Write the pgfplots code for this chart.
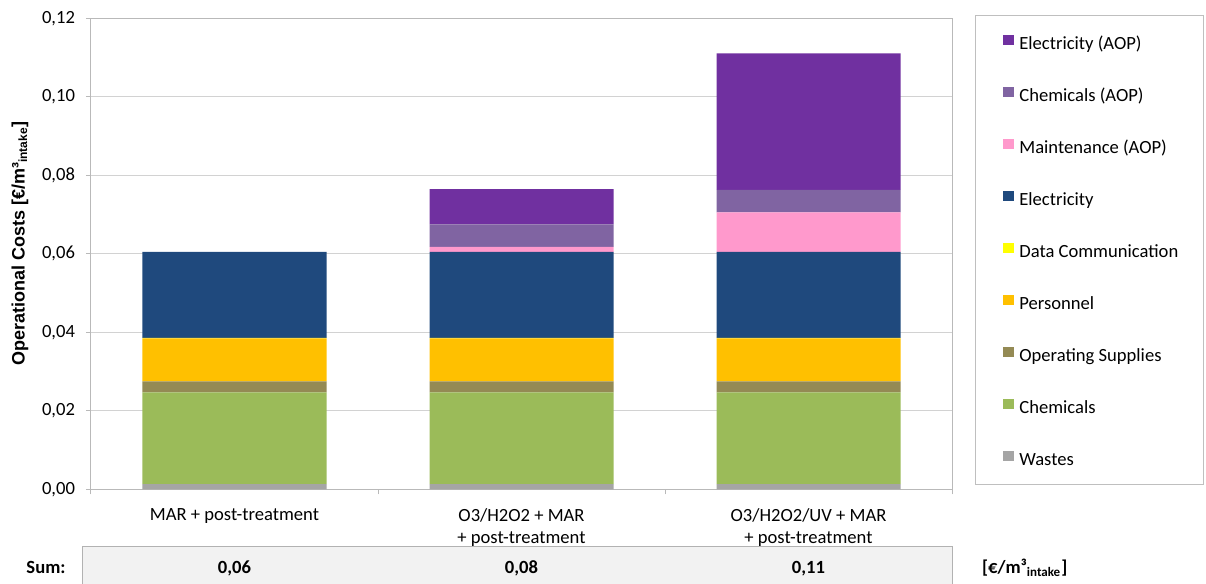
\documentclass[border=0pt]{standalone}
\usepackage{fontspec}
\setmainfont{Carlito}
\newfontfamily\arialfont{Liberation Sans}
\usepackage{pgfplots}
\pgfplotsset{compat=1.18}
\definecolor{cWaste}{HTML}{A5A5A5}
\definecolor{cChem}{HTML}{9BBB59}
\definecolor{cSupp}{HTML}{948A54}
\definecolor{cPers}{HTML}{FFC000}
\definecolor{cData}{HTML}{FFFF00}
\definecolor{cElec}{HTML}{1F497D}
\definecolor{cMaint}{HTML}{FF99CC}
\definecolor{cChemA}{HTML}{8064A2}
\definecolor{cElecA}{HTML}{7030A0}
\definecolor{cTable}{HTML}{F2F2F2}
\newcommand{\cf}{\fontsize{9.3}{11.3}\selectfont}
\begin{document}
\begin{tikzpicture}
\useasboundingbox (-45.5pt,-47.35pt) rectangle (557.5pt,244.65pt);
\begin{axis}[
  name=ax, at={(0,0)}, anchor=south west,
  scale only axis, width=430.5pt, height=235.4pt,
  ybar stacked, bar width=92pt,
  xmin=-0.5, xmax=2.5, ymin=0, ymax=0.12,
  enlarge x limits=false,
  xtick={0,1,2},
  xticklabels={MAR + post-treatment, {O3/H2O2 + MAR\\+ post-treatment}, {O3/H2O2/UV + MAR\\+ post-treatment}},
  minor xtick={-0.5,0.5,1.5,2.5},
  ytick={0,0.02,0.04,0.06,0.08,0.1,0.12},
  scaled y ticks=false,
  ymajorgrids, grid style={draw=gray!35, line width=0.5pt},
  axis line style={draw=gray!55, line width=0.5pt},
  tick align=outside, tick pos=left,
  major tick length=2.5pt, minor tick length=2.5pt,
  major x tick style={draw=none},
  minor x tick style={draw=gray!55, line width=0.5pt},
  ytick style={draw=gray!55, line width=0.5pt},
  xticklabel style={font=\cf, align=center, yshift=-3.5pt},
  yticklabel style={font=\cf, xshift=-2pt, /pgf/number format/.cd, use comma, fixed, fixed zerofill, precision=2, assume math mode=true},
  ylabel={Operational Costs [€/m³\textsubscript{intake}]},
  every axis y label/.style={at={(axis description cs:-0.0825,0.522)}, rotate=90, anchor=center, font=\arialfont\bfseries\fontsize{9}{10.8}\selectfont},
  reverse legend,
  legend cell align=left,
  legend style={at={(axis description cs:1.0592,0.9664)}, anchor=north west, draw=none, fill=none, inner sep=0pt, font=\cf, row sep=16.75pt, nodes={inner sep=0pt, text height=6.5pt, text depth=2pt}},
  legend image code/.code={\path[#1, draw=none] (0pt,0pt) rectangle (5.5pt,5pt); \path (8pt,0pt);},
]
\addplot[fill=cWaste, draw=none] coordinates {(0,0.0013) (1,0.0013) (2,0.0013)};
\addlegendentry{Wastes}
\addplot[fill=cChem, draw=none] coordinates {(0,0.0234) (1,0.0234) (2,0.0234)};
\addlegendentry{Chemicals}
\addplot[fill=cSupp, draw=none] coordinates {(0,0.0028) (1,0.0028) (2,0.0028)};
\addlegendentry{Operating Supplies}
\addplot[fill=cPers, draw=none] coordinates {(0,0.0110) (1,0.0110) (2,0.0110)};
\addlegendentry{Personnel}
\addplot[fill=cData, draw=none] coordinates {(0,0.0001) (1,0.0001) (2,0.0001)};
\addlegendentry{Data Communication}
\addplot[fill=cElec, draw=none] coordinates {(0,0.0219) (1,0.0219) (2,0.0219)};
\addlegendentry{Electricity}
\addplot[fill=cMaint, draw=none] coordinates {(0,0) (1,0.0013) (2,0.0101)};
\addlegendentry{Maintenance (AOP)}
\addplot[fill=cChemA, draw=none] coordinates {(0,0) (1,0.0057) (2,0.0057)};
\addlegendentry{Chemicals (AOP)}
\addplot[fill=cElecA, draw=none] coordinates {(0,0) (1,0.0090) (2,0.0348)};
\addlegendentry{Electricity (AOP)}
\end{axis}
% legend frame
\draw[gray!50, line width=0.5pt] (442.35pt,2.15pt) rectangle (556pt,236.8pt);
% sum row
\fill[cTable] (-4.15pt,-28.6pt) rectangle (430.65pt,-60pt);
\draw[gray!60, line width=0.75pt] (-4.15pt,-60pt) -- (-4.15pt,-28.6pt) -- (430.65pt,-28.6pt) -- (430.65pt,-60pt);
\node[font=\cf\bfseries, anchor=base] at (-22.5pt,-42pt) {Sum:};
\node[font=\cf\bfseries, anchor=base] at (71.75pt,-42pt) {0,06};
\node[font=\cf\bfseries, anchor=base] at (215.25pt,-42pt) {0,08};
\node[font=\cf\bfseries, anchor=base] at (358.75pt,-42pt) {0,11};
\node[font=\cf\bfseries, anchor=base west, inner sep=0pt] at (445.35pt,-42.3pt) {[€/m³\textsubscript{intake}]};
\end{tikzpicture}
\end{document}
